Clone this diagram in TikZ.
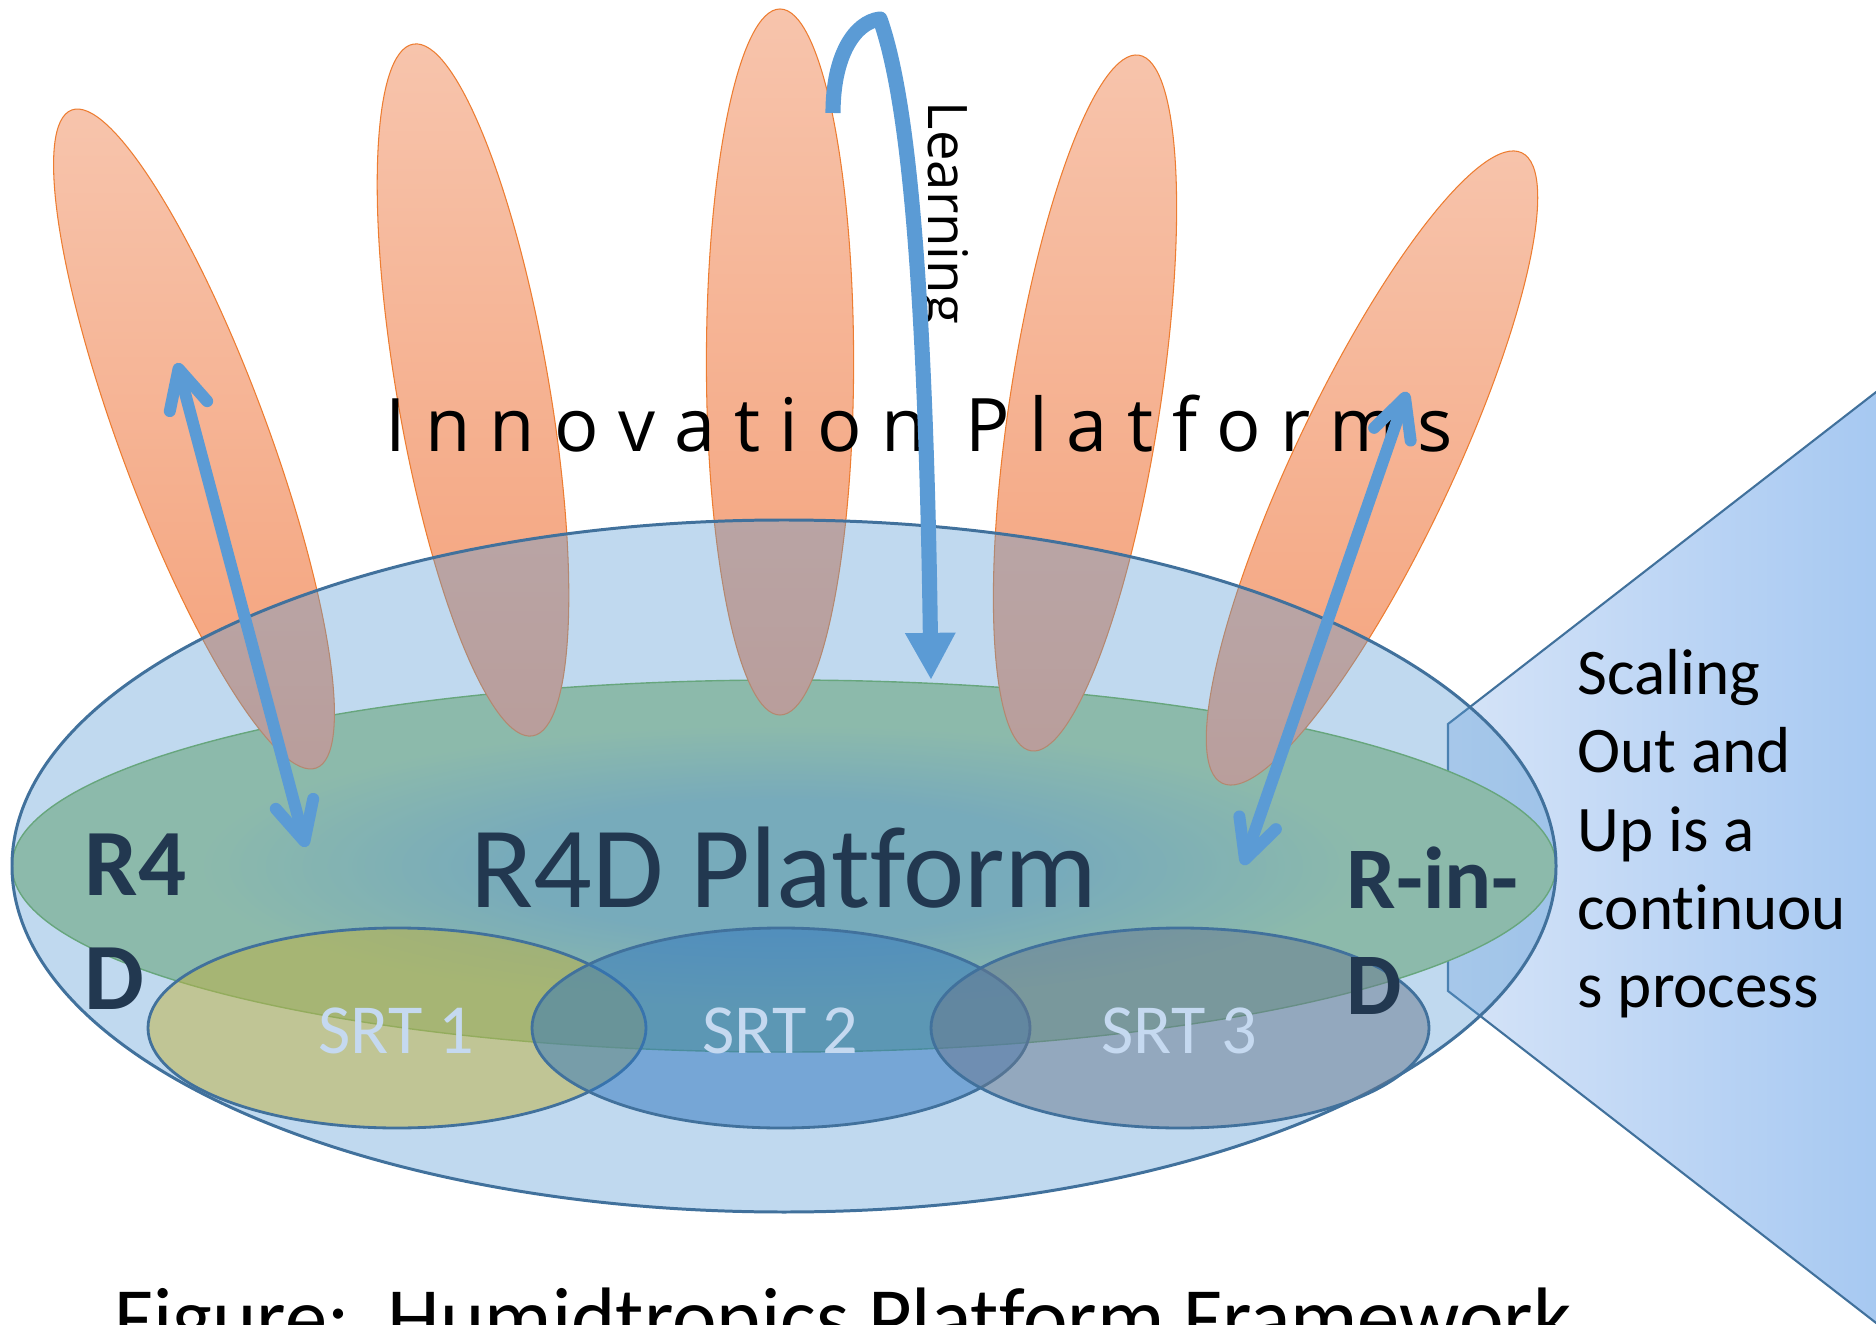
\documentclass[tikz,border=0pt]{standalone}
\usepackage{fontspec}
\setmainfont{Carlito}[Ligatures=NoCommon]
\newfontfamily\opensans{Open Sans}
\usetikzlibrary{arrows.meta}
\definecolor{ipline}{RGB}{237,125,49}
\definecolor{iptop}{RGB}{247,196,172}
\definecolor{ipbottom}{RGB}{244,160,120}
\definecolor{rfdblue}{RGB}{91,155,213}
\definecolor{rfdline}{RGB}{65,113,156}
\definecolor{glowin}{RGB}{138,181,171}
\definecolor{glowout}{RGB}{172,206,146}
\definecolor{glowline}{RGB}{112,173,71}
\definecolor{srtone}{RGB}{192,178,62}
\definecolor{srttwo}{RGB}{46,117,190}
\definecolor{srtthree}{RGB}{104,120,142}
\definecolor{srttext}{RGB}{197,217,240}
\definecolor{rfdnavy}{RGB}{34,56,80}
\definecolor{scaleleft}{RGB}{214,228,248}
\definecolor{scaleright}{RGB}{157,195,240}
\pgfdeclareradialshading{rfdglow}{\pgfpoint{0bp}{0bp}}{color(0bp)=(glowin); color(9bp)=(glowin); color(19bp)=(glowout); color(50bp)=(glowout)}
\tikzset{
  ipellipse/.style={draw=ipline, line width=0.3pt, top color=iptop, bottom color=ipbottom},
  srtellipse/.style={draw=rfdline, line width=0.8pt, fill opacity=0.5},
  bluearrow/.style={draw=rfdblue, line width=3.4pt, <->, >={Straight Barb[length=11pt, width=11pt, round]}},
  srtlabel/.style={text=srttext, font=\fontsize{20}{24}\selectfont, anchor=base},
  sidelabel/.style={text=rfdnavy, font=\fontsize{27}{32.4}\selectfont\bfseries, align=left, anchor=north west, inner sep=0pt},
}
\begin{document}
\begin{tikzpicture}[x=0.01cm, y=-0.01cm]
    \useasboundingbox (0,0) rectangle (1876,1325);
    \clip (0,0) rectangle (1876,1325);
    \shadedraw[left color=scaleleft, right color=scaleright, draw=rfdline, line width=0.6pt] (1448,724) -- (1960,327) -- (1960,1388) -- (1448,991) -- cycle;
    \shadedraw[shading=rfdglow, draw=glowline, line width=0.4pt] (784,866) ellipse [x radius=772, y radius=186];
    \path[ipellipse, shift={(194,439)}, rotate=-69.6] (0,0) ellipse [x radius=351, y radius=73.5];
    \path[ipellipse, shift={(473,390)}, rotate=-80.2] (0,0) ellipse [x radius=351, y radius=76];
    \path[ipellipse, shift={(780,362)}, rotate=90] (0,0) ellipse [x radius=353, y radius=73.6];
    \path[ipellipse, shift={(1085,403)}, rotate=81.2] (0,0) ellipse [x radius=352, y radius=75];
    \path[ipellipse, shift={(1372,468)}, rotate=64.6] (0,0) ellipse [x radius=349, y radius=78.6];
    \filldraw[fill=rfdblue, fill opacity=0.384, draw=rfdline, line width=0.85pt] (784,866) ellipse [x radius=772, y radius=346];
    \filldraw[srtellipse, fill=srtone] (397,1028) ellipse [x radius=249, y radius=100];
    \filldraw[srtellipse, fill=srttwo] (781,1028) ellipse [x radius=249, y radius=100];
    \filldraw[srtellipse, fill=srtthree] (1180,1028) ellipse [x radius=249, y radius=100];
    \node[srtlabel] (srt1) at (396,1053) {SRT 1};
    \node[srtlabel] (srt2) at (780,1053) {SRT 2};
    \node[srtlabel] (srt3) at (1179,1053) {SRT 3};
    \node[text=rfdnavy, font=\fontsize{33}{40}\selectfont, anchor=base] (rfd) at (784,907) {R4D Platform};
    \node[sidelabel] (rfour) at (84,833) {R4\\D};
    \node[sidelabel, font=\fontsize{25}{30.2}\selectfont\bfseries] (rind) at (1346,846) {R-in-\\D};
    \node[font=\fontsize{18.5}{22.2}\selectfont, align=left, anchor=north west, inner sep=0pt] (scaling) at (1577,649) {Scaling\\Out and\\Up is a\\continuou\\s process};
    \node[font=\opensans\fontsize{21}{25}\selectfont, anchor=base west, inner sep=0pt] (inno) at (385,452) {I n n o v a t i o n\ \ P l a t f o r m s};
    \node[font=\opensans\fontsize{15.5}{18}\selectfont, rotate=-90] (learn) at (942,213) {Learning};
    \node[font=\fontsize{24}{29}\selectfont, anchor=base west, inner sep=0pt] (caption) at (114,1346) {Figure:\ \ Humidtropics Platform Framework};
    \coordinate (ltop) at (177,363);
    \coordinate (lbot) at (306,847);
    \coordinate (rtop) at (1407,392);
    \coordinate (rbot) at (1243,865);
    \coordinate (lstart) at (833,113);
    \coordinate (lend) at (931,680);
    \draw[bluearrow] (ltop) -- (lbot);
    \draw[bluearrow] (rbot) -- (rtop);
    \draw[draw=rfdblue, line width=4.3pt, line join=round, -{Triangle[length=13.4pt, width=13.4pt]}] (lstart) .. controls (833,55) and (855,22) .. (880,19) .. controls (905,90) and (925,250) .. (lend);
  \end{tikzpicture}
\end{document}
